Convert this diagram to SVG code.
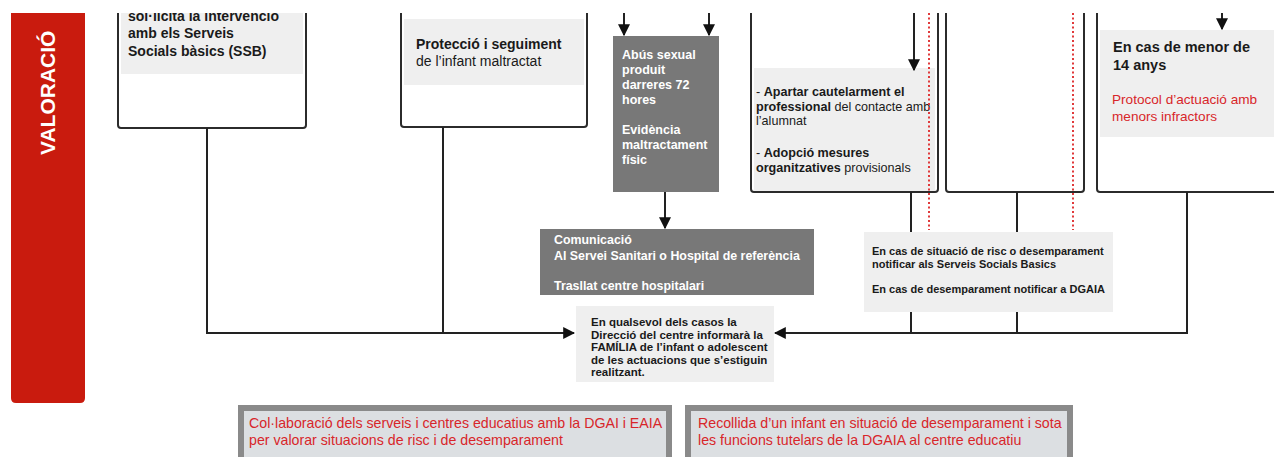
<svg xmlns="http://www.w3.org/2000/svg" width="1274" height="457" viewBox="0 0 1274 457">
<style>
text{font-family:"Liberation Sans",Arial,sans-serif}
.box{fill:#fff;stroke:#2b2b2b;stroke-width:2}
.inner{fill:#efefef}
.dark{fill:#787878}
.b{font-weight:bold}
.t14{font-size:14px;fill:#1a1a1a;font-weight:bold}
.wt{font-size:12.5px;fill:#fff;font-weight:bold}
.wc{font-size:12.4px;fill:#fff;font-weight:bold}
.t13{font-size:12.6px;fill:#1a1a1a}
.t118{font-size:11.5px;fill:#1a1a1a;font-weight:bold}
.t11{font-size:11px;fill:#1a1a1a;font-weight:bold}
.red{fill:#d8262a}
.rb{font-size:14.2px;fill:#d8262a}
.line{fill:none;stroke:#222;stroke-width:2}
.dot{fill:none;stroke:#e0393a;stroke-width:2;stroke-dasharray:2 2.5}
.frame{fill:#dcdfe2;stroke:#8a8a8a;stroke-width:6}
</style>
<defs>
<clipPath id="clip"><rect x="0" y="13" width="1274" height="444"/></clipPath>
<marker id="ah" viewBox="0 0 10 10" refX="9" refY="5" markerWidth="12" markerHeight="12" markerUnits="userSpaceOnUse" orient="auto"><path d="M0,0 L10,5 L0,10 z" fill="#111"/></marker>
</defs>
<rect width="1274" height="457" fill="#fff"/>
<g clip-path="url(#clip)">
<g id="bar">
<path d="M11,0 H85 V398 Q85,403 80,403 H16 Q11,403 11,398 Z" fill="#c91b0e"/>
<text transform="translate(55,155) rotate(-90)" font-size="21" font-weight="bold" fill="#fff">VALORACIÓ</text>
</g>
<g id="n1">
<rect class="box" x="118" y="-10" width="188" height="138" rx="3"/>
<rect class="inner" x="121" y="0" width="182" height="74"/>
<text class="t14" x="128" y="21">sol·licita la intervenció</text>
<text class="t14" x="128" y="38">amb els Serveis</text>
<text class="t14" x="128" y="56">Socials bàsics (SSB)</text>
</g>
<g id="n2">
<rect class="box" x="401" y="-10" width="186" height="137" rx="3"/>
<rect class="inner" x="404" y="19" width="180" height="66"/>
<text class="t14" x="416" y="49">Protecció i seguiment</text>
<text x="416" y="66" font-size="14" fill="#1a1a1a">de l’infant maltractat</text>
</g>
<g id="n3">
<rect class="dark" x="613" y="36" width="106" height="156"/>
<text class="wt" x="622" y="59">Abús sexual</text>
<text class="wt" x="622" y="74">produit</text>
<text class="wt" x="622" y="89">darreres 72</text>
<text class="wt" x="622" y="104">hores</text>
<text class="wt" x="622" y="134">Evidència</text>
<text class="wt" x="622" y="149">maltractament</text>
<text class="wt" x="622" y="164">físic</text>
</g>
<g id="n4">
<rect class="dark" x="540" y="229" width="274" height="66"/>
<text class="wc" x="554" y="244">Comunicació</text>
<text class="wc" x="554" y="260">Al Servei Sanitari o Hospital de referència</text>
<text class="wc" x="554" y="290">Trasllat centre hospitalari</text>
</g>
<g id="n5">
<rect class="inner" x="576" y="306" width="198" height="76"/>
<text class="t118" x="591" y="326">En qualsevol dels casos la</text>
<text class="t118" x="591" y="338.5">Direcció del centre informarà la</text>
<text class="t118" x="591" y="351">FAMÍLIA de l’infant o adolescent</text>
<text class="t118" x="591" y="363.5">de les actuacions que s’estiguin</text>
<text class="t118" x="591" y="376">realitzant.</text>
</g>
<g id="n6">
<rect class="box" x="751" y="-10" width="187" height="202" rx="3"/>
<rect class="inner" x="754" y="68" width="181" height="123"/>
<text class="t13" x="756" y="96">- <tspan class="b">Apartar cautelarment el</tspan></text>
<text class="t13" x="756" y="111"><tspan class="b">professional</tspan> del contacte amb</text>
<text class="t13" x="756" y="125">l’alumnat</text>
<text class="t13" x="756" y="157">- <tspan class="b">Adopció mesures</tspan></text>
<text class="t13" x="756" y="172"><tspan class="b">organitzatives</tspan> provisionals</text>
</g>
<g id="n7">
<rect class="box" x="946" y="-10" width="138" height="202" rx="3"/>
</g>
<g id="n8">
<rect class="box" x="1097" y="-10" width="200" height="202" rx="3"/>
<rect class="inner" x="1100" y="30" width="174" height="107"/>
<text x="1113" y="52" font-size="14.5" font-weight="bold" fill="#1a1a1a">En cas de menor de</text>
<text x="1113" y="70" font-size="14.5" font-weight="bold" fill="#1a1a1a">14 anys</text>
<text class="red" x="1112" y="104" font-size="13.6">Protocol d’actuació amb</text>
<text class="red" x="1112" y="121" font-size="13.6">menors infractors</text>
</g>
<g id="n9">
<rect class="inner" x="864" y="232" width="249" height="80"/>
<text class="t11" x="872" y="255">En cas de situació de risc o desemparament</text>
<text class="t11" x="872" y="268">notificar als Serveis Socials Basics</text>
<text class="t11" x="872" y="293">En cas de desemparament notificar a DGAIA</text>
</g>
<g id="n10">
<rect class="frame" x="241" y="408" width="428" height="60"/>
<text class="rb" x="249" y="428">Col·laboració dels serveis i centres educatius amb la DGAI i EAIA</text>
<text class="rb" x="249" y="445">per valorar situacions de risc i de desemparament</text>
</g>
<g id="n11">
<rect class="frame" x="688" y="408" width="382" height="60"/>
<text class="rb" x="698" y="428">Recollida d’un infant en situació de desemparament i sota</text>
<text class="rb" x="698" y="445">les funcions tutelars de la DGAIA al centre educatiu</text>
</g>
<g id="connectors">
<path class="line" d="M207,128 V333 H574" marker-end="url(#ah)"/>
<path class="line" d="M443,127 V333"/>
<path class="line" d="M1187,192 V333 H775" marker-end="url(#ah)"/>
<path class="line" d="M911,192 V232 M911,312 V333"/>
<path class="line" d="M1017,192 V232 M1017,312 V333"/>
<path class="line" d="M624,0 V35" marker-end="url(#ah)"/>
<path class="line" d="M709,0 V35" marker-end="url(#ah)"/>
<path class="line" d="M914,0 V70" marker-end="url(#ah)"/>
<path class="line" d="M1222,0 V29" marker-end="url(#ah)"/>
<path class="line" d="M665,192 V228" marker-end="url(#ah)"/>
<path class="dot" d="M929,13 V230"/>
<path class="dot" d="M1073,13 V230"/>
</g>
</g>
</svg>
